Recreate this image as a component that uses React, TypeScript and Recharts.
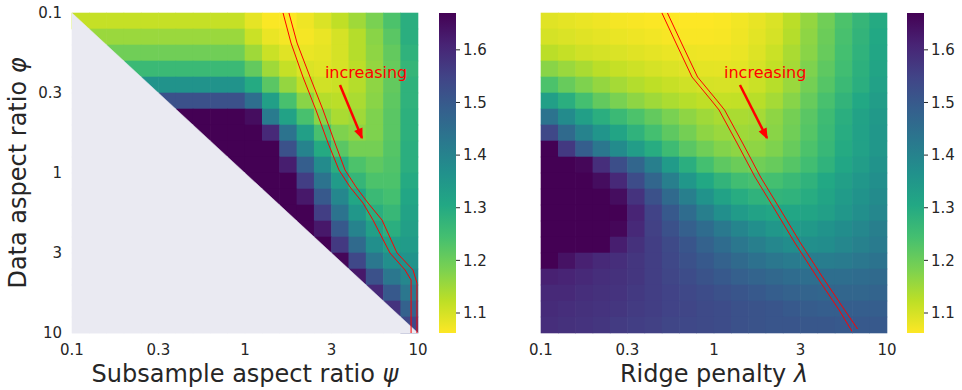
import React from "react";
import {
  ScatterChart,
  Scatter,
  XAxis,
  YAxis,
  ReferenceDot,
  BarChart,
  Bar,
} from "recharts";

// colour scale (reversed viridis, yellow = low)
const VMIN = 1.062;
const VMAX = 1.67;
const VIRIDIS = [
  "#440154", "#482475", "#414487", "#355f8d", "#2a788e", "#21918c",
  "#22a884", "#44bf70", "#7ad151", "#bddf26", "#fde725",
];
const BG = "#eaeaf2";
const TXT = "#262626";
const FONT = "DejaVu Sans";

// log10 grid centres (0.1 .. 10 in 20 steps)
const logCenters = [
  -0.95, -0.85, -0.75, -0.65, -0.55, -0.45, -0.35, -0.25, -0.15, -0.05,
  0.05, 0.15, 0.25, 0.35, 0.45, 0.55, 0.65, 0.75, 0.85, 0.95,
];
const tickPos = [-1, -0.5, 0, 0.5, 1];
const tickLabels = ["0.1", "0.3", "1", "3", "10"];
const cbarTicks = [1.1, 1.2, 1.3, 1.4, 1.5, 1.6];

const N = null;
// rows = data aspect ratio phi (top 0.1), cols = subsample aspect ratio psi
const leftGrid = [
  [1.115, 1.115, 1.115, 1.115, 1.115, 1.115, 1.115, 1.115, 1.115, 1.115, 1.085, 1.065, 1.062, 1.075, 1.095, 1.12, 1.15, 1.185, 1.235, 1.29],
  [N, 1.155, 1.155, 1.155, 1.155, 1.155, 1.155, 1.155, 1.155, 1.155, 1.11, 1.08, 1.07, 1.07, 1.08, 1.1, 1.13, 1.17, 1.22, 1.29],
  [N, N, 1.195, 1.195, 1.195, 1.195, 1.195, 1.195, 1.195, 1.195, 1.15, 1.11, 1.09, 1.08, 1.085, 1.1, 1.13, 1.165, 1.21, 1.28],
  [N, N, N, 1.26, 1.26, 1.26, 1.26, 1.26, 1.26, 1.26, 1.21, 1.15, 1.115, 1.095, 1.09, 1.1, 1.125, 1.16, 1.205, 1.27],
  [N, N, N, N, 1.36, 1.36, 1.36, 1.36, 1.36, 1.36, 1.3, 1.22, 1.16, 1.12, 1.105, 1.11, 1.13, 1.165, 1.21, 1.28],
  [N, N, N, N, N, 1.52, 1.52, 1.52, 1.52, 1.52, 1.45, 1.33, 1.24, 1.17, 1.13, 1.125, 1.14, 1.17, 1.215, 1.28],
  [N, N, N, N, N, N, 1.72, 1.72, 1.72, 1.72, 1.65, 1.42, 1.32, 1.24, 1.17, 1.14, 1.15, 1.18, 1.22, 1.285],
  [N, N, N, N, N, N, N, 1.72, 1.72, 1.72, 1.72, 1.6, 1.44, 1.33, 1.24, 1.18, 1.165, 1.18, 1.22, 1.285],
  [N, N, N, N, N, N, N, N, 1.72, 1.72, 1.72, 1.67, 1.52, 1.4, 1.3, 1.22, 1.19, 1.19, 1.225, 1.29],
  [N, N, N, N, N, N, N, N, N, 1.72, 1.72, 1.72, 1.62, 1.49, 1.38, 1.29, 1.235, 1.215, 1.23, 1.29],
  [N, N, N, N, N, N, N, N, N, N, 1.72, 1.72, 1.68, 1.56, 1.44, 1.34, 1.27, 1.235, 1.235, 1.3],
  [N, N, N, N, N, N, N, N, N, N, N, 1.72, 1.72, 1.63, 1.5, 1.39, 1.31, 1.26, 1.245, 1.31],
  [N, N, N, N, N, N, N, N, N, N, N, N, 1.72, 1.68, 1.56, 1.44, 1.35, 1.29, 1.265, 1.32],
  [N, N, N, N, N, N, N, N, N, N, N, N, N, 1.72, 1.63, 1.5, 1.4, 1.33, 1.29, 1.33],
  [N, N, N, N, N, N, N, N, N, N, N, N, N, N, 1.69, 1.57, 1.46, 1.37, 1.33, 1.34],
  [N, N, N, N, N, N, N, N, N, N, N, N, N, N, N, 1.66, 1.54, 1.43, 1.37, 1.36],
  [N, N, N, N, N, N, N, N, N, N, N, N, N, N, N, N, 1.63, 1.52, 1.43, 1.39],
  [N, N, N, N, N, N, N, N, N, N, N, N, N, N, N, N, N, 1.6, 1.5, 1.43],
  [N, N, N, N, N, N, N, N, N, N, N, N, N, N, N, N, N, N, 1.58, 1.48],
  [N, N, N, N, N, N, N, N, N, N, N, N, N, N, N, N, N, N, N, 1.54],
];
// invalid region psi < phi (corners of the masked triangle)
const leftMask = [
  { x: -1, y: -1 },
  { x: 1, y: 1 },
  { x: -1, y: 1 },
];

// rows = phi (top 0.1), cols = ridge penalty lambda
const rightGrid = [
  [1.09, 1.085, 1.08, 1.075, 1.07, 1.067, 1.064, 1.062, 1.062, 1.062, 1.065, 1.072, 1.082, 1.095, 1.125, 1.16, 1.195, 1.235, 1.27, 1.3],
  [1.1, 1.095, 1.09, 1.085, 1.08, 1.076, 1.072, 1.068, 1.066, 1.066, 1.068, 1.075, 1.087, 1.1, 1.13, 1.165, 1.2, 1.24, 1.275, 1.305],
  [1.125, 1.115, 1.105, 1.1, 1.095, 1.09, 1.085, 1.08, 1.077, 1.075, 1.075, 1.08, 1.092, 1.11, 1.14, 1.17, 1.205, 1.245, 1.28, 1.31],
  [1.17, 1.155, 1.14, 1.125, 1.115, 1.108, 1.1, 1.094, 1.089, 1.086, 1.085, 1.088, 1.1, 1.118, 1.145, 1.18, 1.215, 1.25, 1.285, 1.315],
  [1.235, 1.205, 1.18, 1.16, 1.145, 1.132, 1.122, 1.113, 1.106, 1.1, 1.098, 1.1, 1.11, 1.128, 1.155, 1.19, 1.225, 1.26, 1.29, 1.325],
  [1.33, 1.29, 1.245, 1.21, 1.185, 1.165, 1.15, 1.138, 1.128, 1.12, 1.116, 1.118, 1.127, 1.145, 1.172, 1.205, 1.24, 1.275, 1.305, 1.335],
  [1.44, 1.38, 1.33, 1.29, 1.26, 1.235, 1.21, 1.185, 1.165, 1.15, 1.14, 1.14, 1.145, 1.165, 1.19, 1.22, 1.255, 1.29, 1.32, 1.345],
  [1.54, 1.46, 1.4, 1.355, 1.315, 1.28, 1.245, 1.215, 1.19, 1.165, 1.155, 1.15, 1.155, 1.17, 1.195, 1.225, 1.26, 1.295, 1.325, 1.35],
  [1.67, 1.57, 1.49, 1.43, 1.38, 1.335, 1.295, 1.255, 1.22, 1.195, 1.175, 1.165, 1.165, 1.18, 1.205, 1.235, 1.265, 1.3, 1.325, 1.35],
  [1.72, 1.72, 1.66, 1.59, 1.525, 1.47, 1.41, 1.34, 1.29, 1.245, 1.215, 1.2, 1.195, 1.205, 1.225, 1.25, 1.28, 1.31, 1.335, 1.36],
  [1.72, 1.72, 1.7, 1.65, 1.6, 1.53, 1.47, 1.41, 1.35, 1.305, 1.275, 1.25, 1.24, 1.245, 1.26, 1.28, 1.305, 1.33, 1.35, 1.37],
  [1.72, 1.72, 1.72, 1.72, 1.65, 1.58, 1.52, 1.46, 1.41, 1.36, 1.32, 1.295, 1.28, 1.275, 1.28, 1.295, 1.315, 1.34, 1.36, 1.38],
  [1.72, 1.72, 1.72, 1.72, 1.69, 1.61, 1.55, 1.5, 1.455, 1.41, 1.37, 1.34, 1.32, 1.31, 1.31, 1.315, 1.33, 1.35, 1.37, 1.39],
  [1.72, 1.72, 1.72, 1.72, 1.66, 1.6, 1.555, 1.52, 1.485, 1.455, 1.425, 1.395, 1.37, 1.35, 1.34, 1.345, 1.36, 1.375, 1.39, 1.41],
  [1.72, 1.72, 1.72, 1.68, 1.62, 1.585, 1.56, 1.535, 1.51, 1.48, 1.455, 1.43, 1.41, 1.39, 1.375, 1.37, 1.375, 1.39, 1.405, 1.42],
  [1.67, 1.64, 1.615, 1.6, 1.59, 1.575, 1.56, 1.54, 1.52, 1.5, 1.48, 1.46, 1.445, 1.43, 1.42, 1.415, 1.415, 1.42, 1.43, 1.44],
  [1.615, 1.61, 1.6, 1.59, 1.585, 1.575, 1.56, 1.545, 1.53, 1.515, 1.5, 1.485, 1.475, 1.465, 1.455, 1.45, 1.45, 1.45, 1.455, 1.46],
  [1.6, 1.6, 1.59, 1.585, 1.58, 1.57, 1.56, 1.55, 1.54, 1.53, 1.52, 1.51, 1.5, 1.49, 1.48, 1.475, 1.47, 1.47, 1.47, 1.475],
  [1.595, 1.59, 1.585, 1.58, 1.575, 1.565, 1.56, 1.55, 1.545, 1.535, 1.53, 1.52, 1.515, 1.51, 1.5, 1.495, 1.49, 1.49, 1.49, 1.49],
  [1.59, 1.585, 1.58, 1.575, 1.565, 1.56, 1.555, 1.545, 1.54, 1.535, 1.53, 1.52, 1.515, 1.51, 1.51, 1.505, 1.505, 1.5, 1.5, 1.5],
];

// red contour pair (log10 coords)
const leftLineA = [
  { x: 0.22, y: -1 }, { x: 0.266, y: -0.8125 }, { x: 0.335, y: -0.6 },
  { x: 0.41, y: -0.394 }, { x: 0.48, y: -0.1875 }, { x: 0.543, y: -0.019 },
  { x: 0.607, y: 0.0875 }, { x: 0.682, y: 0.1875 }, { x: 0.74, y: 0.294 },
  { x: 0.838, y: 0.5 }, { x: 0.925, y: 0.606 }, { x: 0.96, y: 0.669 },
  { x: 0.96, y: 1 },
];
const leftLineB = [
  { x: 0.254, y: -1 }, { x: 0.301, y: -0.8125 }, { x: 0.376, y: -0.6 },
  { x: 0.451, y: -0.394 }, { x: 0.52, y: -0.1875 }, { x: 0.578, y: -0.019 },
  { x: 0.642, y: 0.0875 }, { x: 0.711, y: 0.1875 }, { x: 0.792, y: 0.294 },
  { x: 0.879, y: 0.5 }, { x: 0.971, y: 0.606 }, { x: 0.994, y: 0.6875 },
  { x: 0.994, y: 1 },
];
const rightLineA = [
  { x: -0.301, y: -1 }, { x: -0.22, y: -0.8125 }, { x: -0.127, y: -0.6 },
  { x: -0.017, y: -0.456 }, { x: 0.029, y: -0.394 }, { x: 0.133, y: -0.1875 },
  { x: 0.237, y: 0.025 }, { x: 0.353, y: 0.231 }, { x: 0.468, y: 0.4375 },
  { x: 0.595, y: 0.65 }, { x: 0.723, y: 0.856 }, { x: 0.798, y: 0.99 },
];
const rightLineB = [
  { x: -0.269, y: -1 }, { x: -0.188, y: -0.8125 }, { x: -0.095, y: -0.6 },
  { x: 0.015, y: -0.456 }, { x: 0.061, y: -0.394 }, { x: 0.165, y: -0.1875 },
  { x: 0.269, y: 0.025 }, { x: 0.385, y: 0.231 }, { x: 0.5, y: 0.4375 },
  { x: 0.627, y: 0.65 }, { x: 0.755, y: 0.856 }, { x: 0.83, y: 0.975 },
];

// "increasing" annotations
const leftArrow = [{ x: 0.549, y: -0.55 }, { x: 0.676, y: -0.219, head: true }];
const rightArrow = [{ x: 0.15, y: -0.55 }, { x: 0.306, y: -0.219, head: true }];
const leftNote = { x: 0.462, y: -0.594 };
const rightNote = { x: 0.058, y: -0.594 };

const PLOT_W = 346;
const PLOT_H = 320;
const CELL_W = PLOT_W / logCenters.length;
const CELL_H = PLOT_H / logCenters.length;

function hexToRgb(h: string) {
  return [1, 3, 5].map((i) => parseInt(h.slice(i, i + 2), 16));
}

function colorFor(v: number) {
  let t = (VMAX - v) / (VMAX - VMIN);
  t = Math.max(0, Math.min(1, t));
  const p = t * (VIRIDIS.length - 1);
  const i = Math.min(VIRIDIS.length - 2, Math.floor(p));
  const f = p - i;
  const a = hexToRgb(VIRIDIS[i]);
  const b = hexToRgb(VIRIDIS[i + 1]);
  const c = a.map((av, k) => Math.round(av + (b[k] - av) * f));
  return `rgb(${c[0]},${c[1]},${c[2]})`;
}

function toCells(grid: (number | null)[][]) {
  const out: { x: number; y: number; v: number | null }[] = [];
  grid.forEach((row, r) =>
    row.forEach((v, c) => out.push({ x: logCenters[c], y: logCenters[r], v }))
  );
  return out;
}

const leftCells = toCells(leftGrid);
const rightCells = toCells(rightGrid);

const HeatCell = (props: any) => {
  const { cx, cy, payload } = props;
  if (cx == null || cy == null) return <g />;
  return (
    <rect
      x={cx - CELL_W / 2 - 0.3}
      y={cy - CELL_H / 2 - 0.3}
      width={CELL_W + 0.6}
      height={CELL_H + 0.6}
      fill={payload.v == null ? BG : colorFor(payload.v)}
    />
  );
};

const NoDot = () => <g />;

function makeHead(arrow: any[]) {
  const ang = Math.atan2(
    ((arrow[1].y - arrow[0].y) * PLOT_H) / 2,
    ((arrow[1].x - arrow[0].x) * PLOT_W) / 2
  );
  return (props: any) => {
    const { cx, cy, payload } = props;
    if (!payload || !payload.head) return <g />;
    const len = 11;
    const hw = 4.5;
    const tx = cx + 1.5 * Math.cos(ang);
    const ty = cy + 1.5 * Math.sin(ang);
    const bx = tx - len * Math.cos(ang);
    const by = ty - len * Math.sin(ang);
    const px = -Math.sin(ang) * hw;
    const py = Math.cos(ang) * hw;
    return (
      <polygon
        points={`${tx},${ty} ${bx + px},${by + py} ${bx - px},${by - py}`}
        fill="red"
      />
    );
  };
}

const Note = (props: any) => (
  <text x={props.cx} y={props.cy} fill="red" fontSize={16} fontFamily={FONT}>
    increasing
  </text>
);

const tickFmt = (v: number) => tickLabels[tickPos.indexOf(v)] ?? "";
const tickStyle = { fill: TXT, fontSize: 15, fontFamily: FONT };

function xTitle(text: string, sym: string) {
  return (p: any) => {
    const vb = p.viewBox;
    return (
      <text
        x={vb.x + vb.width / 2}
        y={vb.y + 49}
        textAnchor="middle"
        fill={TXT}
        fontSize={24}
        fontFamily={FONT}
      >
        {text}
        <tspan fontStyle="italic">{sym}</tspan>
      </text>
    );
  };
}

const yTitle = (p: any) => {
  const vb = p.viewBox;
  const cx = vb.x + 26;
  const cy = vb.y + vb.height / 2;
  return (
    <text
      x={cx}
      y={cy}
      transform={`rotate(-90, ${cx}, ${cy})`}
      textAnchor="middle"
      fill={TXT}
      fontSize={24}
      fontFamily={FONT}
    >
      Data aspect ratio <tspan fontStyle="italic">φ</tspan>
    </text>
  );
};

function Heatmap({ cells, mask, lineA, lineB, note, arrow, title, sym, showY }: any) {
  return (
    <ScatterChart
      width={430}
      height={390}
      margin={{ top: 13, right: showY ? 12 : 23, bottom: 0, left: showY ? 0 : 61 }}
    >
      <XAxis
        type="number"
        dataKey="x"
        domain={[-1, 1]}
        ticks={tickPos}
        tickFormatter={tickFmt}
        axisLine={false}
        tickLine={false}
        tickSize={0}
        tickMargin={11}
        tick={tickStyle}
        height={57}
        interval={0}
        label={xTitle(title, sym)}
      />
      <YAxis
        type="number"
        dataKey="y"
        domain={[-1, 1]}
        reversed
        ticks={tickPos}
        tickFormatter={tickFmt}
        axisLine={false}
        tickLine={false}
        tickSize={0}
        tickMargin={10}
        tick={tickStyle}
        width={72}
        interval={0}
        hide={!showY}
        label={showY ? yTitle : undefined}
      />
      <Scatter data={cells} shape={HeatCell} isAnimationActive={false} />
      {mask && (
        <Scatter
          data={mask}
          fill={BG}
          line={{ fill: BG, stroke: BG, strokeWidth: 0.5 }}
          shape={NoDot}
          isAnimationActive={false}
        />
      )}
      <Scatter
        data={lineA}
        fill="red"
        line={{ strokeWidth: 1 }}
        shape={NoDot}
        isAnimationActive={false}
      />
      <Scatter
        data={lineB}
        fill="red"
        line={{ strokeWidth: 1 }}
        shape={NoDot}
        isAnimationActive={false}
      />
      <Scatter
        data={arrow}
        fill="red"
        line={{ strokeWidth: 2.5 }}
        shape={makeHead(arrow)}
        isAnimationActive={false}
      />
      <ReferenceDot x={note.x} y={note.y} r={1} shape={Note} ifOverflow="visible" />
    </ScatterChart>
  );
}

function ColorBar({ id, width, axisWidth }: any) {
  const data = [{ name: "cbar", range: [VMIN, VMAX] }];
  return (
    <BarChart
      width={width}
      height={390}
      data={data}
      margin={{ top: 13, right: 0, bottom: 57, left: 0 }}
      barCategoryGap={0}
    >
      <defs>
        <linearGradient id={id} x1="0" y1="0" x2="0" y2="1">
          {VIRIDIS.map((c, i) => (
            <stop key={i} offset={i / (VIRIDIS.length - 1)} stopColor={c} />
          ))}
        </linearGradient>
      </defs>
      <XAxis dataKey="name" hide />
      <YAxis
        orientation="right"
        type="number"
        domain={[VMIN, VMAX]}
        ticks={cbarTicks}
        tickFormatter={(v: number) => v.toFixed(1)}
        axisLine={false}
        tickLine={{ stroke: TXT }}
        tickSize={4}
        tickMargin={3}
        tick={tickStyle}
        width={axisWidth}
        interval={0}
        allowDataOverflow
      />
      <Bar dataKey="range" fill={`url(#${id})`} isAnimationActive={false} />
    </BarChart>
  );
}

export default function App() {
  return (
    <div
      style={{
        position: "absolute",
        left: 0,
        top: 0,
        width: 962,
        height: 390,
        background: "#fff",
        overflow: "hidden",
      }}
    >
      <div style={{ position: "absolute", left: 0, top: 0 }}>
        <Heatmap
          cells={leftCells}
          mask={leftMask}
          lineA={leftLineA}
          lineB={leftLineB}
          note={leftNote}
          arrow={leftArrow}
          title="Subsample aspect ratio "
          sym="ψ"
          showY
        />
      </div>
      <div style={{ position: "absolute", left: 439, top: 0 }}>
        <ColorBar id="cbarLeft" width={60} axisWidth={43} />
      </div>
      <div style={{ position: "absolute", left: 480, top: 0 }}>
        <Heatmap
          cells={rightCells}
          lineA={rightLineA}
          lineB={rightLineB}
          note={rightNote}
          arrow={rightArrow}
          title="Ridge penalty "
          sym="λ"
          showY={false}
        />
      </div>
      <div style={{ position: "absolute", left: 907, top: 0 }}>
        <ColorBar id="cbarRight" width={55} axisWidth={38} />
      </div>
    </div>
  );
}
